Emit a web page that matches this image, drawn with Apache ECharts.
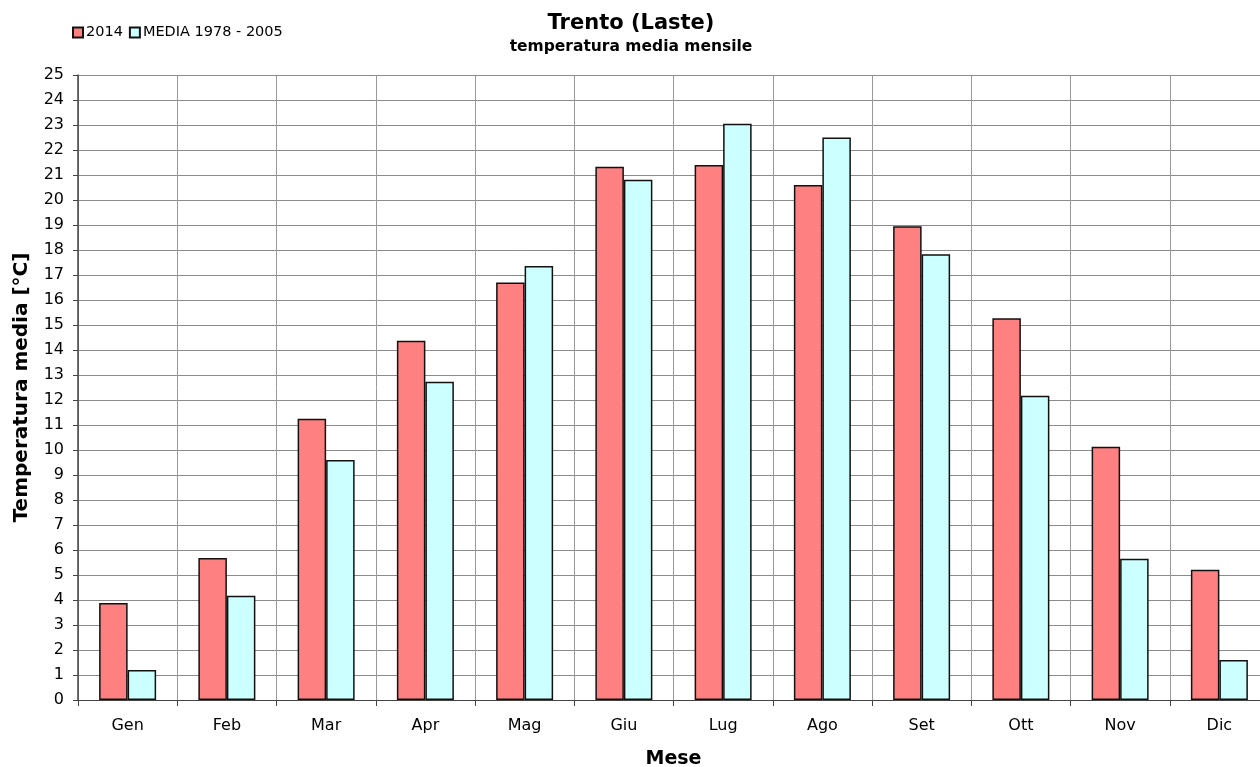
<!DOCTYPE html>
<html>
<head>
<meta charset="utf-8">
<script src="https://cdn.jsdelivr.net/npm/echarts@6/dist/echarts.min.js"></script>
<style>
  html, body { margin: 0; padding: 0; background: #fff; overflow: hidden; }
  /* plot runs a little past the right edge, like the original */
  #chart { width: 1269px; height: 767px; }
</style>
</head>
<body>
<div id="chart"></div>
<script>
const mesi = ['Gen', 'Feb', 'Mar', 'Apr', 'Mag', 'Giu', 'Lug', 'Ago', 'Set', 'Ott', 'Nov', 'Dic']
const temp2014 = [3.88, 5.68, 11.25, 14.37, 16.7, 21.33, 21.4, 20.6, 18.95, 15.27, 10.13, 5.21]
const media7805 = [1.2, 4.17, 9.6, 12.73, 17.36, 20.81, 23.05, 22.5, 17.83, 12.17, 5.65, 1.6]

const FONT = 'DejaVu Sans'
let myChart = echarts.init(document.getElementById('chart'))
let option = {
  animation: false,
  textStyle: { fontFamily: FONT },
  title: {
    text: 'Trento (Laste)',
    subtext: 'temperatura media mensile',
    left: 626,
    textAlign: 'center',
    top: 8,
    itemGap: 5,
    textStyle: { fontFamily: FONT, fontSize: 21, fontWeight: 'bold', color: '#000' },
    subtextStyle: { fontFamily: FONT, fontSize: 15.5, fontWeight: 'bold', color: '#000' }
  },
  legend: {
    left: 67,
    top: 20,
    itemWidth: 10,
    itemHeight: 10,
    itemGap: 6,
    icon: 'rect',
    textStyle: { fontFamily: FONT, fontSize: 14.5, color: '#000', padding: [0, 0, 0, -2] },
    data: ['2014', 'MEDIA 1978 - 2005']
  },
  grid: {
    left: 78,
    right: 0,
    top: 75,
    height: 625,
    containLabel: false,
    outerBoundsMode: 'none'
  },
  xAxis: {
    type: 'category',
    data: mesi,
    name: 'Mese',
    nameLocation: 'middle',
    nameGap: 50,
    nameTextStyle: { fontFamily: FONT, fontSize: 19, fontWeight: 'bold', color: '#000' },
    axisLine: { lineStyle: { color: '#444', width: 1 } },
    axisTick: { show: true, alignWithLabel: false, length: 6, lineStyle: { color: '#444' } },
    axisLabel: { color: '#000', fontSize: 16, margin: 18, fontFamily: FONT },
    splitLine: { show: true, lineStyle: { color: '#999', width: 1 } }
  },
  yAxis: {
    type: 'value',
    min: 0,
    max: 25,
    interval: 1,
    name: 'Temperatura media [°C]',
    nameLocation: 'middle',
    nameGap: 46,
    nameTextStyle: { fontFamily: FONT, fontSize: 20, fontWeight: 'bold', color: '#000' },
    axisLine: { show: true, lineStyle: { color: '#444', width: 1.5 } },
    axisTick: { show: true, length: 5, lineStyle: { color: '#444' } },
    axisLabel: { color: '#000', fontSize: 16, margin: 14, fontFamily: FONT },
    splitLine: { show: true, lineStyle: { color: '#8c8c8c', width: 1 } }
  },
  series: [
    {
      name: '2014',
      type: 'bar',
      data: temp2014,
      barWidth: 28.5,
      barGap: '0%',
      itemStyle: { color: '#FF8080', borderColor: '#111', borderWidth: 1.5 }
    },
    {
      name: 'MEDIA 1978 - 2005',
      type: 'bar',
      data: media7805,
      barWidth: 28.5,
      barGap: '0%',
      itemStyle: { color: '#CCFFFF', borderColor: '#111', borderWidth: 1.5 }
    }
  ]
}
myChart.setOption(option)
window.addEventListener('resize', () => myChart.resize())
</script>
</body>
</html>
